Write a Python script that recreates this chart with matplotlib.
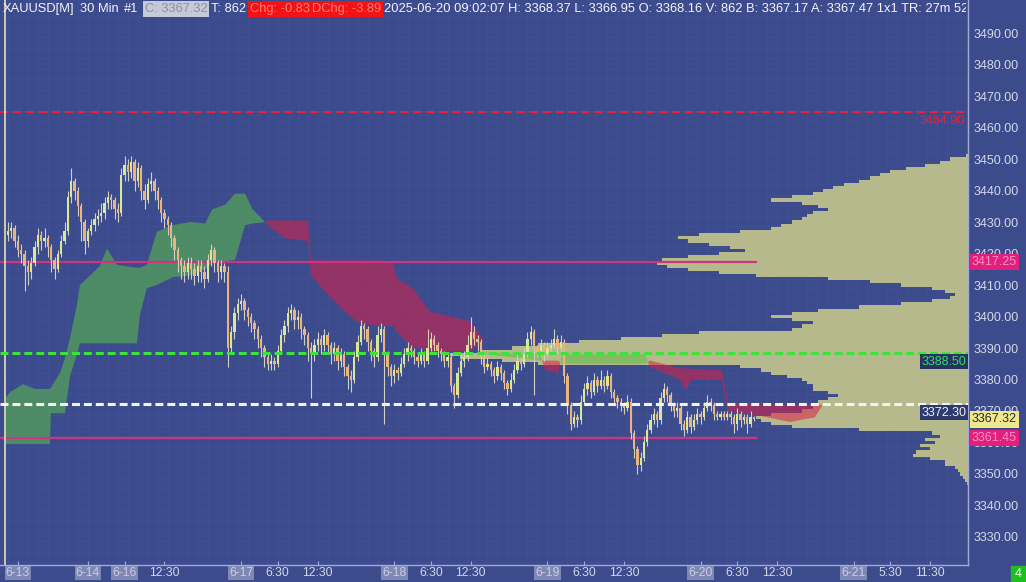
import numpy as np
import matplotlib
matplotlib.use('Agg')
import matplotlib.pyplot as plt
from matplotlib.patches import Rectangle

plt.rcParams['font.family'] = ['Liberation Sans', 'DejaVu Sans']

# ---- 30 min candles (bar index = position) ----
OPEN0 = 3426
CLOSE = [
    3427, 3428, 3424, 3421, 3420, 3416, 3414, 3417, 3422, 3426,
    3424, 3425, 3422, 3418, 3415, 3420, 3424, 3427, 3438, 3443,
    3440, 3435, 3430, 3424, 3427, 3429, 3431, 3432, 3433, 3436,
    3438, 3437, 3434, 3433, 3445, 3448, 3446, 3449, 3443, 3447,
    3440, 3437, 3442, 3443, 3440, 3437, 3433, 3431, 3429, 3425,
    3421, 3418, 3416, 3414, 3417, 3415, 3413, 3416, 3414, 3412,
    3418, 3421, 3417, 3414, 3416, 3414, 3390, 3395, 3401, 3404,
    3405, 3402, 3400, 3398, 3396, 3393, 3390, 3387, 3385, 3386,
    3385, 3389, 3394, 3397, 3401, 3402, 3399, 3400, 3396, 3394,
    3390, 3388, 3391, 3393, 3391, 3394, 3391, 3388, 3390, 3386,
    3388, 3384, 3381, 3380, 3387, 3392, 3397, 3396, 3392, 3389,
    3387, 3394, 3396, 3388, 3384, 3381, 3383, 3382, 3385, 3388,
    3390, 3389, 3387, 3386, 3388, 3386, 3390, 3393, 3391, 3389,
    3388, 3386, 3387, 3378, 3375, 3382, 3386, 3387, 3391, 3395,
    3393, 3392, 3387, 3384, 3385, 3383, 3381, 3384, 3382, 3379,
    3377, 3380, 3383, 3386, 3385, 3388, 3393, 3395, 3390, 3389,
    3391, 3388, 3390, 3391, 3393, 3390, 3392, 3381, 3372, 3366,
    3368, 3367, 3373, 3377, 3379, 3376, 3380, 3378, 3380, 3378,
    3381, 3376, 3374, 3373, 3372, 3371, 3373, 3363, 3358, 3353,
    3355, 3360, 3364, 3367, 3369, 3367, 3374, 3377, 3375, 3372,
    3370, 3371, 3366, 3364, 3368, 3365, 3367, 3369, 3368, 3371,
    3373, 3372, 3369, 3368, 3369, 3368, 3369, 3368, 3366, 3369,
    3367, 3368, 3366, 3368, 3367.32]
HIGH = [
    3430, 3430, 3429, 3426, 3423, 3421, 3418, 3419, 3424, 3428,
    3427, 3428, 3426, 3423, 3419, 3421, 3426, 3430, 3440, 3447,
    3444, 3441, 3436, 3431, 3428, 3431, 3433, 3434, 3436, 3438,
    3440, 3439, 3438, 3436, 3447, 3451, 3450, 3451, 3450, 3449,
    3448, 3442, 3444, 3446, 3444, 3441, 3438, 3434, 3432, 3430,
    3426, 3422, 3419, 3418, 3419, 3419, 3417, 3418, 3418, 3416,
    3420, 3423, 3422, 3418, 3418, 3417, 3416, 3397, 3403, 3406,
    3407, 3406, 3403, 3401, 3399, 3397, 3394, 3391, 3388, 3388,
    3387, 3391, 3396, 3399, 3403, 3404, 3403, 3402, 3401, 3397,
    3395, 3392, 3393, 3395, 3394, 3396, 3395, 3392, 3392, 3391,
    3390, 3389, 3385, 3383, 3389, 3394, 3399, 3398, 3397, 3393,
    3390, 3397, 3398, 3397, 3389, 3385, 3385, 3384, 3387, 3390,
    3392, 3391, 3390, 3388, 3390, 3389, 3396, 3395, 3394, 3392,
    3390, 3389, 3388, 3388, 3379, 3384, 3388, 3389, 3394, 3400,
    3397, 3394, 3393, 3388, 3387, 3386, 3384, 3386, 3385, 3383,
    3380, 3382, 3385, 3388, 3387, 3390, 3395, 3397, 3396, 3391,
    3393, 3392, 3392, 3393, 3396, 3394, 3394, 3393, 3382, 3373,
    3370, 3369, 3375, 3379, 3381, 3380, 3382, 3381, 3383, 3381,
    3383, 3382, 3377, 3375, 3374, 3373, 3375, 3374, 3364, 3359,
    3357, 3362, 3366, 3369, 3371, 3370, 3376, 3379, 3378, 3376,
    3373, 3373, 3372, 3367, 3370, 3369, 3369, 3371, 3370, 3373,
    3375, 3374, 3373, 3370, 3370, 3370, 3370, 3370, 3369, 3371,
    3370, 3369, 3369, 3370, 3368.37]
LOW = [
    3424, 3425, 3422, 3419, 3417, 3408, 3410, 3412, 3416, 3420,
    3421, 3422, 3419, 3414, 3412, 3414, 3419, 3423, 3426, 3436,
    3437, 3432, 3424, 3420, 3422, 3426, 3427, 3429, 3430, 3431,
    3434, 3434, 3431, 3430, 3432, 3443, 3443, 3444, 3440, 3441,
    3437, 3434, 3436, 3440, 3437, 3434, 3430, 3428, 3426, 3422,
    3418, 3414, 3412, 3411, 3412, 3412, 3410, 3411, 3411, 3409,
    3411, 3416, 3414, 3411, 3412, 3411, 3384, 3388, 3393, 3399,
    3402, 3399, 3397, 3395, 3393, 3390, 3387, 3384, 3383, 3383,
    3383, 3384, 3388, 3392, 3395, 3399, 3396, 3396, 3393, 3391,
    3386, 3374, 3386, 3389, 3388, 3389, 3388, 3385, 3386, 3383,
    3384, 3381, 3377, 3376, 3379, 3386, 3391, 3393, 3389, 3386,
    3384, 3386, 3392, 3366, 3381, 3378, 3379, 3380, 3381, 3384,
    3386, 3387, 3385, 3384, 3385, 3384, 3385, 3389, 3389, 3387,
    3386, 3384, 3384, 3376, 3371, 3374, 3381, 3384, 3386, 3390,
    3391, 3389, 3385, 3382, 3383, 3381, 3379, 3380, 3380, 3377,
    3375, 3376, 3379, 3382, 3383, 3384, 3387, 3391, 3375, 3387,
    3388, 3386, 3387, 3389, 3390, 3388, 3389, 3379, 3369, 3364,
    3365, 3365, 3366, 3372, 3375, 3374, 3375, 3376, 3377, 3376,
    3377, 3374, 3372, 3371, 3370, 3369, 3370, 3361, 3355, 3350,
    3351, 3354, 3359, 3363, 3366, 3365, 3366, 3373, 3373, 3370,
    3368, 3368, 3364, 3362, 3363, 3363, 3364, 3366, 3366, 3367,
    3370, 3370, 3367, 3367, 3367, 3367, 3367, 3366, 3363, 3364,
    3365, 3366, 3363, 3365, 3366.95]

TICK_IDX = [3, 24, 35, 47, 70, 81, 93, 116, 127, 139, 162, 173, 185,
            208, 219, 231, 254, 265, 277]
TICK_LABELS = ['6-13', '6-14', '6-16', '12:30', '6-17', '6:30', '12:30',
               '6-18', '6:30', '12:30', '6-19', '6:30', '12:30',
               '6-20', '6:30', '12:30', '6-21', '5:30', '11:30']

# ---- ichimoku cloud (span A / span B), shifted into the future ----
CLOUD_IDX = [-0.9, 0.6, 4.5, 8.1, 12.6, 12.9, 15.6, 17.1, 18.6, 20.7,
             21.6, 24.6, 27.6, 29.7, 32.7, 38.7, 39.6, 41.7, 44.7, 49.5,
             54.7, 59.2, 61.3, 65.2, 68.2, 71.2, 73.3, 77.2, 78.1, 83.2,
             90.1, 91.0, 95.2, 98.2, 101.2, 104.8, 110.2, 115.6, 116.8, 121.6,
             123.7, 126.7, 138.7, 142.6, 143.8, 159.8, 161.3, 165.2, 166.4, 191.3,
             192.8, 201.8, 203.3, 205.4, 214.4, 216.2, 225.8, 234.8, 242.3, 244.4]
SPAN_A = [3374, 3376, 3378.5, 3377, 3377, 3377.5, 3382, 3386.7, 3393, 3403.6,
          3410, 3413, 3416, 3421.6, 3416.4, 3415.5, 3415.5, 3416.4, 3426.9, 3429,
          3430, 3429.5, 3434, 3435.5, 3439, 3439, 3434.3, 3430, 3429, 3424.8,
          3424, 3413, 3408, 3404.7, 3401.5, 3398.3, 3397, 3397, 3395, 3390,
          3390, 3389, 3389, 3392, 3388.5, 3388, 3383, 3382, 3388, 3388,
          3384, 3380, 3376.7, 3380, 3380, 3370, 3368.5, 3366.5, 3368, 3371.5]
SPAN_B = [3359.5, 3359.5, 3359.5, 3359.5, 3359.5, 3369.3, 3369.3, 3369.3, 3381, 3388,
          3391.5, 3391.5, 3391.5, 3391.5, 3391.5, 3391.5, 3400.5, 3409, 3410, 3412.5,
          3413, 3415, 3417, 3417.5, 3418, 3429, 3429.5, 3430, 3430.5, 3430.5,
          3430.5, 3417.8, 3417.8, 3417.8, 3417.8, 3417.8, 3417.8, 3417.5, 3412, 3409,
          3405.8, 3401.5, 3398.5, 3393, 3388, 3386, 3386, 3386, 3385, 3385,
          3386, 3383.6, 3383.5, 3383.4, 3383, 3372.5, 3372.5, 3372, 3372, 3372]

# ---- volume profile (relative volume per price row) ----
VP_PRICE = list(range(3451, 3346, -1))
VP_VOL = [0.4, 3.5, 5.4, 8.3, 12, 15, 17, 19, 21, 24,
          26, 28, 30, 34, 38, 32, 29, 27, 30, 31,
          32, 34, 36, 38, 44, 52, 56, 54, 50, 46,
          43, 48, 54, 59, 60, 58, 54, 48, 41, 27,
          19, 13, 7, 4.4, 2.5, 3.5, 7, 13, 21, 29,
          34, 38, 34, 30, 32, 34, 52, 59, 67, 75,
          83, 88, 94, 100, 98, 90, 83, 44, 40, 38,
          35, 32, 31, 30, 30, 27, 25, 27, 29, 30,
          30, 32, 38, 41, 40, 38, 34, 21, 7, 5.4,
          8.3, 6.4, 9.3, 7.3, 10, 10.6, 7.3, 4.4, 4.4, 2.5,
          2, 1.5, 1, 0.6, 0.2]

LEVEL_RED = 3464.90
LEVEL_R1 = 3417.25
LEVEL_GREEN = 3388.50
LEVEL_WHITE = 3372.30
LEVEL_S1 = 3361.45
LAST = 3367.32

BG = '#3c4b8c'
GRID = '#42519a'
AXC = '#a3abd4'
TXT = '#d4d8e8'

fig = plt.figure(figsize=(10.26, 5.82), dpi=100, facecolor=BG)
ax = fig.add_axes([0, 17 / 582, 968 / 1026, 565 / 582], facecolor=BG)
XMIN, XMAX = -2.4, 288.3
ax.set_xlim(XMIN, XMAX)
ax.set_ylim(3321.1, 3500.5)

# fine chart grid
for gx in np.arange(0, XMAX, 3):
    ax.axvline(gx, color=GRID, lw=0.5, zorder=0)
for gy in np.arange(3322, 3500, 10 / 3):
    ax.axhline(gy, color=GRID, lw=0.5, zorder=0)

# volume profile from right edge
w = np.array(VP_VOL) / 100 * 155.6
ax.barh(VP_PRICE, w, left=XMAX - w, height=1.0, color='#b6b98b', lw=0, zorder=1)

# cloud
a = np.array(SPAN_A)
b = np.array(SPAN_B)
ax.fill_between(CLOUD_IDX, a, b, where=a >= b, interpolate=True,
                color='#5cc046', alpha=0.55, lw=0, zorder=2)
ax.fill_between(CLOUD_IDX, a, b, where=a <= b, interpolate=True,
                color='#dc1e46', alpha=0.55, lw=0, zorder=2)

# levels
last_bar = len(CLOSE) - 1
ax.axhline(LEVEL_RED, color='#e8203c', lw=1.5, ls=(0, (4, 2.2)), zorder=3)
ax.hlines([LEVEL_R1, LEVEL_S1], XMIN, last_bar + 1, color='#cf3480', lw=1.6, zorder=3)
ax.axhline(LEVEL_GREEN, color='#3de23d', lw=2.2, ls=(0, (2.6, 1.3)), zorder=6)
ax.axhline(LEVEL_WHITE, color='#f2f2f2', lw=2.2, ls=(0, (2.6, 1.3)), zorder=6)
ax.axvline(-0.9, color='#d9d6b0', lw=1.3, zorder=3)

# candles
c = np.array(CLOSE, dtype=float)
o = np.array([OPEN0] + CLOSE[:-1], dtype=float)
x = np.arange(len(c))
up = c >= o
ax.vlines(x, LOW, HIGH, color='#cfcfc2', lw=0.8, zorder=4)
ax.bar(x, np.maximum(np.abs(c - o), 0.4), bottom=np.minimum(o, c), width=0.7,
       color=np.where(up, '#d8e898', '#eeb27e'), lw=0, zorder=5)

# axes styling
for s in ['top', 'left']:
    ax.spines[s].set_visible(False)
for s in ['right', 'bottom']:
    ax.spines[s].set_color(AXC)
    ax.spines[s].set_linewidth(1.0)
ax.yaxis.tick_right()
yt = np.arange(3330, 3491, 10)
ax.set_yticks(yt)
ax.set_yticklabels([f'{v:.2f}' for v in yt])
ax.tick_params(axis='y', length=0, pad=4, labelsize=9, labelcolor=TXT)
ax.set_xticks(TICK_IDX)
ax.set_xticklabels(TICK_LABELS)
ax.tick_params(axis='x', direction='in', length=3, color=AXC, pad=1.2,
               labelsize=8.8, labelcolor=TXT)
for lab in ax.get_xticklabels():
    if '-' in lab.get_text():
        lab.set_color('#c9cde2')
        lab.set_bbox(dict(boxstyle='square,pad=0.1', fc='#7f88b4', ec='none'))

# price tags on the axis
ytr = ax.get_yaxis_transform()
tag = dict(transform=ytr, ha='left', va='center', fontsize=9, clip_on=False, zorder=10)
ax.text(1.004, LEVEL_R1, f'{LEVEL_R1:.2f}', color='#ff8cc4',
        bbox=dict(boxstyle='square,pad=0.18', fc='#e0207c', ec='none'), **tag)
ax.text(1.004, LAST, f'{LAST:.2f}', color='#2a2a2a',
        bbox=dict(boxstyle='square,pad=0.18', fc='#efe68e', ec='none'), **tag)
ax.text(1.004, LEVEL_S1, f'{LEVEL_S1:.2f}', color='#ff8cc4',
        bbox=dict(boxstyle='square,pad=0.18', fc='#e0207c', ec='none'), **tag)

# level labels inside the plot
inl = dict(transform=ytr, ha='right', va='top', fontsize=9, zorder=10)
ax.text(0.997, LEVEL_RED - 1.0, f'{LEVEL_RED:.2f}', color='#e8203c', **inl)
ax.text(0.998, LEVEL_GREEN - 1.0, f'{LEVEL_GREEN:.2f}', color='#35d870',
        bbox=dict(boxstyle='square,pad=0.12', fc='#26355f', ec='none'), **inl)
ax.text(0.998, LEVEL_WHITE - 1.0, f'{LEVEL_WHITE:.2f}', color='#f0f0f0',
        bbox=dict(boxstyle='square,pad=0.12', fc='#2c3a6e', ec='none'), **inl)

# header line
hax = fig.add_axes([0, 1 - 18 / 582, 966 / 1026, 18 / 582])
hax.patch.set_visible(False)
for s in hax.spines.values():
    s.set_visible(False)
hax.set_xticks([])
hax.set_yticks([])
hax.set_xlim(0, 966)
hax.set_ylim(18, 0)
hd = dict(fontsize=9.3, va='center', ha='left', clip_on=True, color='#f4f4f8')
hax.text(3, 9, 'XAUUSD[M]', **hd)
hax.text(80, 9, '30 Min', **hd)
hax.text(124, 9, '#1', **hd)
hax.text(145, 9, 'C: 3367.32', bbox=dict(boxstyle='square,pad=0.12', fc='#c6c9d6', ec='none'),
         **{**hd, 'color': '#8a90aa'})
hax.text(211, 9, 'T: 862', **hd)
hax.text(250, 9, 'Chg: -0.83', bbox=dict(boxstyle='square,pad=0.12', fc='#f21414', ec='none'),
         **{**hd, 'color': '#ff7a7a'})
hax.text(312, 9, 'DChg: -3.89', bbox=dict(boxstyle='square,pad=0.12', fc='#f21414', ec='none'),
         **{**hd, 'color': '#ff7a7a'})
hax.text(384, 9, '2025-06-20 09:02:07 H: 3368.37 L: 3366.95 O: 3368.16 V: 862 '
         'B: 3367.17 A: 3367.47 1x1 TR: 27m 52s', **hd)

# small green status box bottom right
fig.add_artist(Rectangle((1011 / 1026, 0), 15 / 1026, 16 / 582,
                         transform=fig.transFigure, color='#1fbf1f'))
fig.text(1018.5 / 1026, 8 / 582, '4', color='#e8ffe8', fontsize=9, ha='center', va='center')

fig.savefig('out.png', dpi=100, facecolor=BG)
